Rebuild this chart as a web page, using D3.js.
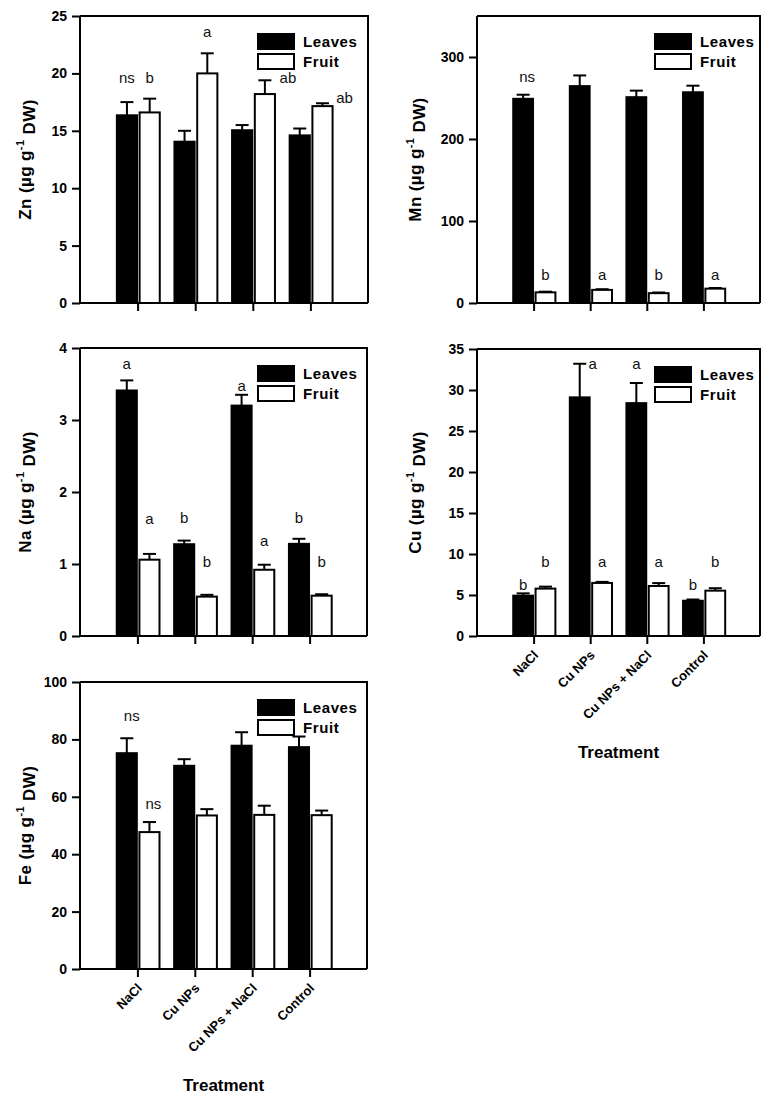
<!DOCTYPE html>
<html>
<head>
<meta charset="utf-8">
<script src="https://cdn.jsdelivr.net/npm/d3@7"></script>
<style>
  html, body { margin: 0; padding: 0; background: #fff; }
  svg { display: block; font-family: "Liberation Sans", Arial, sans-serif; }
</style>
</head>
<body>
<svg id="chart" width="769" height="1099"></svg>
<script>
// ---------------- DATA ----------------
const treatments = ["NaCl", "Cu NPs", "Cu NPs + NaCl", "Control"];
const seriesNames = ["Leaves", "Fruit"];

const znLeaves = [16.35, 14.05, 15.05, 14.6];
const znLeavesErr = [1.15, 0.95, 0.45, 0.6];
const znFruit = [16.6, 20.0, 18.2, 17.15];
const znFruitErr = [1.2, 1.75, 1.2, 0.25];
const znTicks = [0, 5, 10, 15, 20, 25];

const mnLeaves = [249, 264.5, 251, 257];
const mnLeavesErr = [5, 13, 8, 8];
const mnFruit = [13, 16, 12, 17.5];
const mnFruitErr = [0.8, 0.8, 0.8, 0.8];
const mnTicks = [0, 100, 200, 300];

const naLeaves = [3.41, 1.275, 3.2, 1.28];
const naLeavesErr = [0.14, 0.05, 0.15, 0.07];
const naFruit = [1.06, 0.547, 0.92, 0.56];
const naFruitErr = [0.08, 0.025, 0.07, 0.02];
const naTicks = [0, 1, 2, 3, 4];

const cuLeaves = [4.92, 29.1, 28.4, 4.3];
const cuLeavesErr = [0.28, 4.1, 2.45, 0.15];
const cuFruit = [5.78, 6.47, 6.1, 5.53];
const cuFruitErr = [0.24, 0.13, 0.35, 0.3];
const cuTicks = [0, 5, 10, 15, 20, 25, 30, 35];

const feLeaves = [75.2, 70.8, 77.8, 77.3];
const feLeavesErr = [5.2, 2.3, 4.7, 3.7];
const feFruit = [47.7, 53.5, 53.7, 53.6];
const feFruitErr = [3.5, 2.2, 3.2, 1.6];
const feTicks = [0, 20, 40, 60, 80, 100];

// significance letters: [text, value-height]  (null = no label)
const znLeavesSig = [["ns", 19.2], null, null, null];
const znFruitSig = [["b", 19.2], ["a", 23.2], ["ab", 19.2], ["ab", 17.4]];
const mnLeavesSig = [["ns", 270], null, null, null];
const mnFruitSig = [["b", 28], ["a", 28], ["b", 28], ["a", 28]];
const naLeavesSig = [["a", 3.71], ["b", 1.57], ["a", 3.40], ["b", 1.57]];
const naFruitSig = [["a", 1.56], ["b", 0.96], ["a", 1.25], ["b", 0.96]];
const cuLeavesSig = [["b", 5.6], ["a", 32.6], ["a", 32.6], ["b", 5.6]];
const cuFruitSig = [["b", 8.4], ["a", 8.4], ["a", 8.4], ["b", 8.4]];
const feLeavesSig = [["ns", 86.3], null, null, null];
const feFruitSig = [["ns", 55.7], null, null, null];

// ---------------- LAYOUT ----------------
const FONT = '"Liberation Sans", Arial, sans-serif';
const svg = d3.select("#chart");

const panels = [
  { el: "Zn", x0: 80, x1: 368, y0: 16, y1: 303, max: 25, ticks: znTicks,
    leaves: znLeaves, leavesErr: znLeavesErr, fruit: znFruit, fruitErr: znFruitErr,
    lSig: znLeavesSig, fSig: znFruitSig, fSigDx: [0, 0, 23, 22], lSigDx: [0,0,0,0],
    titleX: 25, legX: 258, showX: false },
  { el: "Mn", x0: 477, x1: 760, y0: 16, y1: 303, max: 350, ticks: mnTicks,
    leaves: mnLeaves, leavesErr: mnLeavesErr, fruit: mnFruit, fruitErr: mnFruitErr,
    lSig: mnLeavesSig, fSig: mnFruitSig, fSigDx: [0,0,0,0], lSigDx: [4,0,0,0],
    titleX: 415, legX: 655, showX: false },
  { el: "Na", x0: 80, x1: 367, y0: 348, y1: 636, max: 4, ticks: naTicks,
    leaves: naLeaves, leavesErr: naLeavesErr, fruit: naFruit, fruitErr: naFruitErr,
    lSig: naLeavesSig, fSig: naFruitSig, fSigDx: [0,0,0,0], lSigDx: [0,0,0,0],
    titleX: 25, legX: 258, showX: false },
  { el: "Cu", x0: 477, x1: 760, y0: 349, y1: 636, max: 35, ticks: cuTicks,
    leaves: cuLeaves, leavesErr: cuLeavesErr, fruit: cuFruit, fruitErr: cuFruitErr,
    lSig: cuLeavesSig, fSig: cuFruitSig, fSigDx: [0,0,0,0], lSigDx: [0,13,0,0],
    titleX: 415, legX: 655, showX: true },
  { el: "Fe", x0: 80, x1: 367, y0: 682, y1: 969, max: 100, ticks: feTicks,
    leaves: feLeaves, leavesErr: feLeavesErr, fruit: feFruit, fruitErr: feFruitErr,
    lSig: feLeavesSig, fSig: feFruitSig, fSigDx: [4,0,0,0], lSigDx: [5,0,0,0],
    titleX: 25, legX: 258, showX: true }
];

panels.forEach(p => {
  const g = svg.append("g");
  const x = d3.scaleLinear().domain([0, 5]).range([p.x0, p.x1]);
  const y = d3.scaleLinear().domain([0, p.max]).range([p.y1, p.y0]);

  // bars
  const series = [
    { vals: p.leaves, err: p.leavesErr, sig: p.lSig, sigDx: p.lSigDx, a: -0.36, b: -0.01, fill: "#000" },
    { vals: p.fruit, err: p.fruitErr, sig: p.fSig, sigDx: p.fSigDx, a: 0.035, b: 0.385, fill: "#fff" }
  ];
  series.forEach(s => {
    // error bars (upward only)
    s.vals.forEach((v, i) => {
      const cx = (x(i + 1 + s.a) + x(i + 1 + s.b)) / 2;
      g.append("line").attr("x1", cx).attr("x2", cx)
        .attr("y1", y(v)).attr("y2", y(v + s.err[i]))
        .attr("stroke", "#000").attr("stroke-width", 2);
      g.append("line").attr("x1", cx - 6.5).attr("x2", cx + 6.5)
        .attr("y1", y(v + s.err[i])).attr("y2", y(v + s.err[i]))
        .attr("stroke", "#000").attr("stroke-width", 2);
    });
    g.selectAll(null).data(s.vals).enter().append("rect")
      .attr("x", (d, i) => x(i + 1 + s.a))
      .attr("width", (d, i) => x(i + 1 + s.b) - x(i + 1 + s.a))
      .attr("y", d => y(d))
      .attr("height", d => y(0) - y(d))
      .attr("fill", s.fill)
      .attr("stroke", "#000").attr("stroke-width", 2);
    // letters
    s.sig.forEach((lab, i) => {
      if (!lab) return;
      const cx = (x(i + 1 + s.a) + x(i + 1 + s.b)) / 2 + s.sigDx[i];
      g.append("text").attr("x", cx).attr("y", y(lab[1]))
        .attr("text-anchor", "middle")
        .attr("font-family", FONT).attr("font-size", 15)
        .attr("fill", "#111").text(lab[0]);
    });
  });

  // frame (top & right)
  g.append("path")
    .attr("d", `M${p.x0},${p.y0}H${p.x1}V${p.y1}`)
    .attr("fill", "none").attr("stroke", "#000").attr("stroke-width", 2);

  // y axis
  const yAxis = d3.axisLeft(y).tickValues(p.ticks).tickSize(8).tickPadding(5).tickFormat(d3.format("d"));
  const ya = g.append("g").attr("transform", `translate(${p.x0},0)`).call(yAxis);
  ya.select(".domain").attr("stroke-width", 2).attr("d", `M0,${p.y1}V${p.y0}`);
  ya.selectAll(".tick line").attr("stroke-width", 2);
  ya.selectAll(".tick text").attr("font-family", FONT).attr("font-size", 14)
    .attr("font-weight", "bold").attr("fill", "#000");

  // x axis
  const xAxis = d3.axisBottom(x).tickValues([1, 2, 3, 4]).tickSize(8)
    .tickFormat(d => p.showX ? treatments[d - 1] : "");
  const xa = g.append("g").attr("transform", `translate(0,${p.y1})`).call(xAxis);
  xa.select(".domain").attr("stroke-width", 2).attr("d", `M${p.x0},0H${p.x1}`);
  xa.selectAll(".tick line").attr("stroke-width", 2);
  xa.selectAll(".tick text")
    .attr("font-family", FONT).attr("font-size", 13).attr("font-weight", "bold").attr("fill", "#000")
    .attr("text-anchor", "end").attr("dy", null).attr("y", 0)
    .attr("transform", "translate(5,20) rotate(-45)");

  if (p.showX) {
    g.append("text").attr("x", (p.x0 + p.x1) / 2).attr("y", p.y1 + 122)
      .attr("text-anchor", "middle").attr("font-family", FONT)
      .attr("font-size", 17).attr("font-weight", "bold").text("Treatment");
  }

  // y title
  const t = g.append("text")
    .attr("transform", `translate(${p.titleX},${(p.y0 + p.y1) / 2}) rotate(-90)`)
    .attr("text-anchor", "middle").attr("dy", "0.35em")
    .attr("font-family", FONT).attr("font-size", 17).attr("font-weight", "bold")
    .attr("letter-spacing", 0.4);
  t.append("tspan").text(p.el + " (µg g");
  t.append("tspan").attr("font-size", 11).attr("dy", "-0.6em").text("-1");
  t.append("tspan").attr("dy", "0.6em").text(" DW)");

  // legend
  seriesNames.forEach((n, k) => {
    const ly = p.y0 + 18 + k * 20;
    g.append("rect").attr("x", p.legX).attr("y", ly).attr("width", 36).attr("height", 15)
      .attr("fill", k === 0 ? "#000" : "#fff").attr("stroke", "#000").attr("stroke-width", 2);
    g.append("text").attr("x", p.legX + 45).attr("y", ly + 13)
      .attr("font-family", FONT).attr("font-size", 15).attr("font-weight", "bold")
      .attr("letter-spacing", 0.6).text(n);
  });
});
</script>
</body>
</html>
